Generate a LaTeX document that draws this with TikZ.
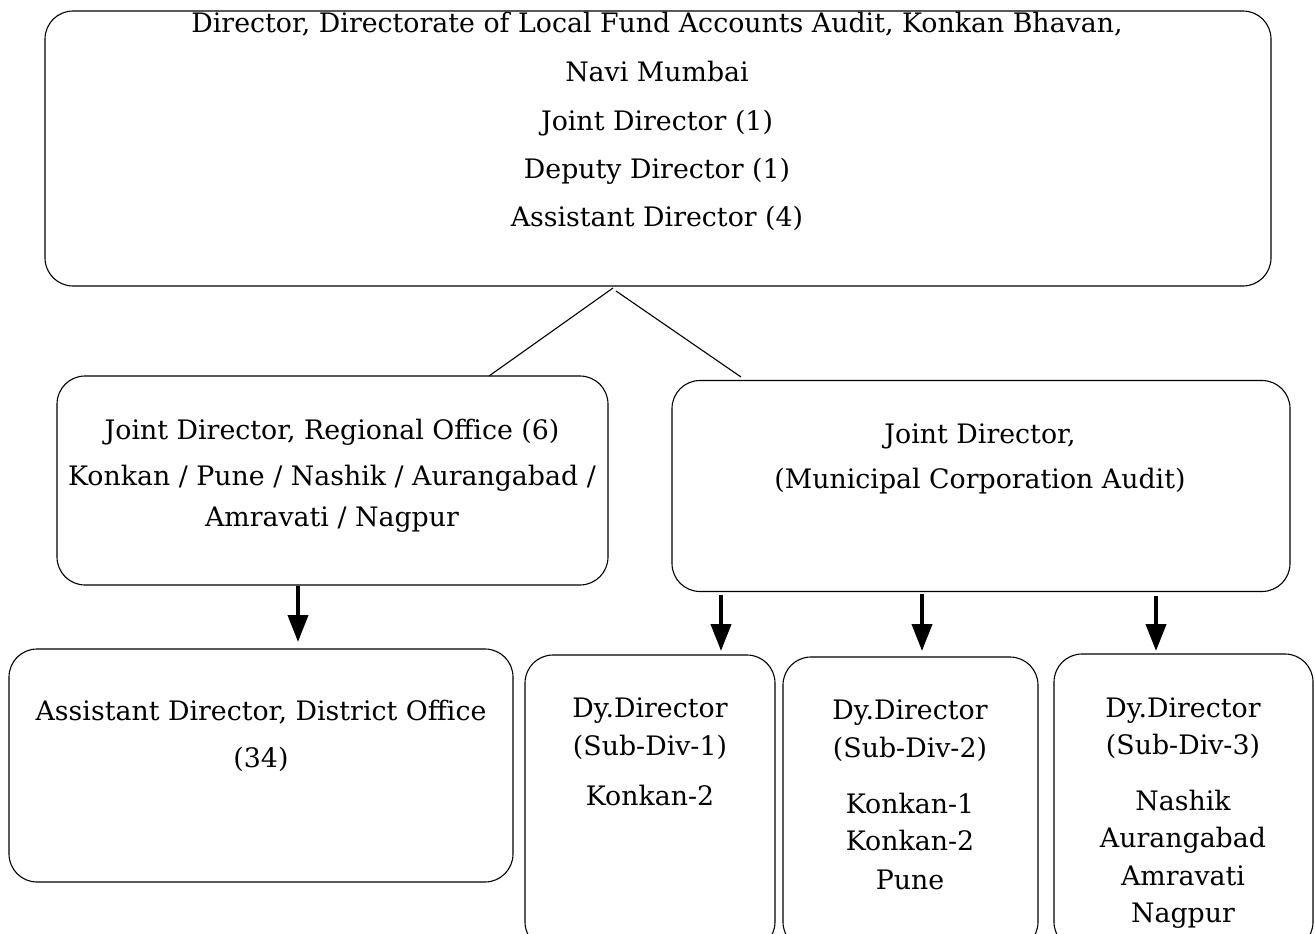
\documentclass[tikz,border=0pt]{standalone}
\usepackage{fontspec}
\setmainfont{DejaVu Serif}
\usetikzlibrary{arrows.meta}

\tikzset{
  box/.style={draw, line width=1.1pt, rounded corners=28pt, inner sep=0pt},
  txt/.style={anchor=base, inner sep=0pt, font=\fontsize{26.8}{30}\selectfont},
  link/.style={line width=1.1pt},
  downarrow/.style={line width=4pt, -{Triangle[length=27pt,width=20pt]}}
}

\begin{document}
\begin{tikzpicture}[x=1pt,y=-1pt]
\useasboundingbox (0,0) rectangle (1315,934);
\clip (0,0) rectangle (1315,934);

% boxes
\node[box, minimum width=1226pt, minimum height=275pt] (director) at (658,148.5) {};
\node[box, minimum width=551pt, minimum height=209pt] (regional) at (332.5,480.5) {};
\node[box, minimum width=618pt, minimum height=211pt] (mca) at (981,486) {};
\node[box, minimum width=504pt, minimum height=233pt] (district) at (261,765.5) {};
\node[box, minimum width=250pt, minimum height=295pt] (subone) at (650,802.5) {};
\node[box, minimum width=255pt, minimum height=293pt] (subtwo) at (910.5,803.5) {};
\node[box, minimum width=259pt, minimum height=296pt] (subthree) at (1183.5,802) {};

% top office
\node[txt] (dir1) at (657,33) {Director, Directorate of Local Fund Accounts Audit, Konkan Bhavan,};
\node[txt] (dir2) at (657,81.5) {Navi Mumbai};
\node[txt] (dir3) at (657,130) {Joint Director (1)};
\node[txt] (dir4) at (657,178) {Deputy Director (1)};
\node[txt] (dir5) at (657,226) {Assistant Director (4)};

% regional offices
\node[txt] (reg1) at (332,439) {Joint Director, Regional Office (6)};
\node[txt] (reg2) at (332,485) {Konkan / Pune / Nashik / Aurangabad /};
\node[txt] (reg3) at (332,526) {Amravati / Nagpur};

\node[txt] (mca1) at (980,443) {Joint Director,};
\node[txt] (mca2) at (980,488) {(Municipal Corporation Audit)};

% district and sub-divisions
\node[txt] (dis1) at (261,720) {Assistant Director, District Office};
\node[txt] (dis2) at (261,767) {(34)};

\node[txt] (one1) at (650,717) {Dy.Director};
\node[txt] (one2) at (650,755) {(Sub-Div-1)};
\node[txt] (one3) at (650,805) {Konkan-2};

\node[txt] (two1) at (910,719) {Dy.Director};
\node[txt] (two2) at (910,757) {(Sub-Div-2)};
\node[txt] (two3) at (910,813) {Konkan-1};
\node[txt] (two4) at (910,850) {Konkan-2};
\node[txt] (two5) at (910,889) {Pune};

\node[txt] (three1) at (1183,717) {Dy.Director};
\node[txt] (three2) at (1183,754) {(Sub-Div-3)};
\node[txt] (three3) at (1183,810) {Nashik};
\node[txt] (three4) at (1183,847) {Aurangabad};
\node[txt] (three5) at (1183,885) {Amravati};
\node[txt] (three6) at (1183,922) {Nagpur};

% connectors
\coordinate (forkL) at (613,288);
\coordinate (forkR) at (616,291);
\coordinate (regin) at (489,376);
\coordinate (mcain) at (741,377);
\draw[link] (forkL) -- (regin);
\draw[link] (forkR) -- (mcain);

\coordinate (tipdis) at (298,642);
\coordinate (tipone) at (721,651);
\coordinate (tiptwo) at (922,651);
\coordinate (tipthree) at (1156,651);
\draw[downarrow] (regional.south -| tipdis) -- (tipdis);
\draw[downarrow, shorten <=3pt] (mca.south -| tipone) -- (tipone);
\draw[downarrow, shorten <=2pt] (mca.south -| tiptwo) -- (tiptwo);
\draw[downarrow, shorten <=4pt] (mca.south -| tipthree) -- (tipthree);
\end{tikzpicture}
\end{document}
